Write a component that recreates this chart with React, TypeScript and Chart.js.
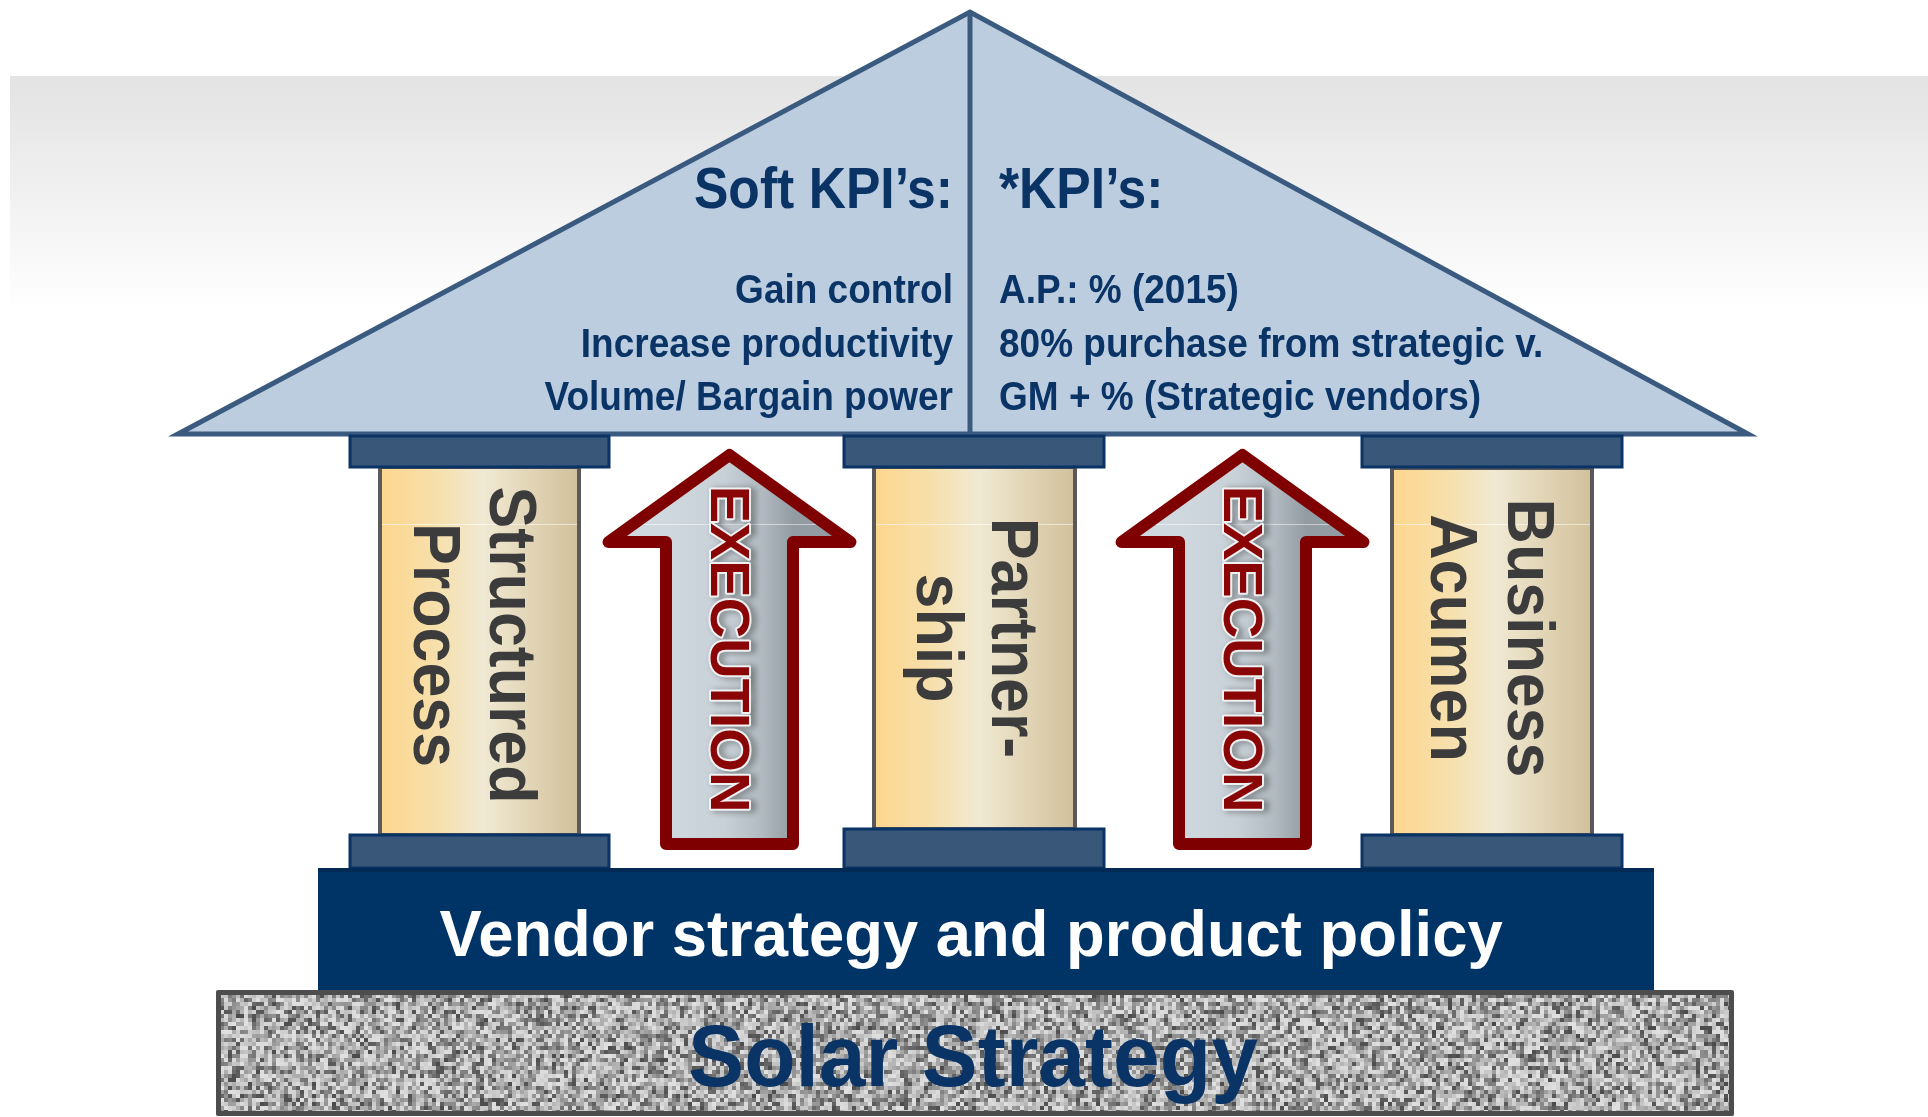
import React, { useEffect, useRef } from "react";
import { Chart, registerables } from "chart.js";

Chart.register(...registerables);

// ---------- content (data) ----------
const roofTitles = ["Soft KPI\u2019s:", "*KPI\u2019s:"];
const softKpis = ["Gain control", "Increase productivity", "Volume/ Bargain power"];
const hardKpis = ["A.P.: % (2015)", "80% purchase from strategic v.", "GM + % (Strategic vendors)"];
const pillarLabels = [
  ["Structured", "Process"],
  ["Partner-", "ship"],
  ["Business", "Acumen"],
];
const arrowLabels = ["EXECUTION", "EXECUTION"];
const foundationLabels = ["Vendor strategy and product policy", "Solar Strategy"];

// ---------- layout (diagram units on the chart's own x / y scales) ----------
const W = 1928;
const H = 1117;
const ROOF = { apexX: 970, apexY: 12, leftX: 178, rightX: 1748, baseY: 434 };
const BAND = { x0: 10, x1: 1928, y0: 76, y1: 310 };
const PILLAR_X = [[380, 579], [874, 1075], [1392, 1592]];
const PILLAR_Y = [[467, 835], [467, 829], [468, 835]];
const CAP_X = [[350, 609], [844, 1104], [1362, 1622]];
const TOP_CAP_Y = [436, 467];
const BOTTOM_CAP_Y = [[835, 868], [829, 868], [835, 868]];
const PILLAR_TEXT_BASE = [[490, 414], [992, 917], [1508, 1431]];
const PILLAR_TEXT_CY = [645, 638, 638];
const ARROW_CX = [729.5, 1242.5];
const ARROW = { tipY: 455, headY: 542, botY: 844, headHalf: 121, shaftHalf: 63.5 };
const ARROW_TEXT = { baseOffset: 18.5, cy: 649 };
const VENDOR = { x0: 318, x1: 1654, y0: 868, y1: 990, textX: 971, textY: 956 };
const SOLAR = { x0: 216, x1: 1734, y0: 990, y1: 1116, textX: 973, textY: 1086 };
const KPI = { leftX: 953, rightX: 999, titleY: 208, rowY: [303, 357, 410] };

const FONT = '"Liberation Sans", Arial, Helvetica, sans-serif';
const NAVY = "#0b3466";

function hash(i: number) {
  const s = Math.sin(i * 12.9898 + 78.233) * 43758.5453;
  return s - Math.floor(s);
}

function text(ctx: any, str: string, x: number, y: number, size: number, sx: number, align: string, color: string) {
  ctx.save();
  ctx.translate(x, y);
  ctx.scale(sx, 1);
  ctx.font = `bold ${size}px ${FONT}`;
  ctx.textAlign = align;
  ctx.textBaseline = "alphabetic";
  ctx.fillStyle = color;
  ctx.fillText(str, 0, 0);
  ctx.restore();
}

const housePlugin = {
  id: "house",
  beforeDatasetsDraw(chart: any) {
    const ctx = chart.ctx;
    const xs = chart.scales.x;
    const ys = chart.scales.y;
    const X = (v: number) => xs.getPixelForValue(v);
    const Y = (v: number) => ys.getPixelForValue(v);

    ctx.save();
    // background band
    const bg = ctx.createLinearGradient(0, Y(BAND.y0), 0, Y(BAND.y1));
    bg.addColorStop(0, "#e3e3e3");
    bg.addColorStop(0.45, "#efefef");
    bg.addColorStop(1, "#ffffff");
    ctx.fillStyle = bg;
    ctx.fillRect(X(BAND.x0), Y(BAND.y0), X(BAND.x1) - X(BAND.x0), Y(BAND.y1) - Y(BAND.y0));

    // roof
    ctx.beginPath();
    ctx.moveTo(X(ROOF.leftX), Y(ROOF.baseY));
    ctx.lineTo(X(ROOF.apexX), Y(ROOF.apexY));
    ctx.lineTo(X(ROOF.rightX), Y(ROOF.baseY));
    ctx.closePath();
    ctx.fillStyle = "#bccde0";
    ctx.fill();
    ctx.lineWidth = 5;
    ctx.lineJoin = "miter";
    ctx.strokeStyle = "#3a5a7f";
    ctx.stroke();
    ctx.beginPath();
    ctx.moveTo(X(ROOF.apexX), Y(ROOF.apexY));
    ctx.lineTo(X(ROOF.apexX), Y(ROOF.baseY));
    ctx.stroke();

    // KPI texts
    text(ctx, roofTitles[0], X(KPI.leftX), Y(KPI.titleY), 58, 0.89, "right", NAVY);
    text(ctx, roofTitles[1], X(KPI.rightX), Y(KPI.titleY), 58, 0.89, "left", NAVY);
    softKpis.forEach((s, i) => text(ctx, s, X(KPI.leftX), Y(KPI.rowY[i]), 40, 0.925, "right", NAVY));
    hardKpis.forEach((s, i) => text(ctx, s, X(KPI.rightX), Y(KPI.rowY[i]), 40, 0.925, "left", NAVY));

    // caps
    const cap = (x0: number, x1: number, y0: number, y1: number) => {
      ctx.beginPath();
      ctx.rect(X(x0), Y(y0), X(x1) - X(x0), Y(y1) - Y(y0));
      ctx.fillStyle = "#385779";
      ctx.fill();
      ctx.lineWidth = 3;
      ctx.strokeStyle = "#0a3366";
      ctx.stroke();
    };

    // pillars
    pillarLabels.forEach((lines, i) => {
      const [px0, px1] = PILLAR_X[i];
      const [py0, py1] = PILLAR_Y[i];
      const g = ctx.createLinearGradient(X(px0), 0, X(px1), 0);
      g.addColorStop(0, "#fdd68c");
      g.addColorStop(0.3, "#f6e0ae");
      g.addColorStop(0.52, "#f0e9d3");
      g.addColorStop(0.78, "#e0d3b3");
      g.addColorStop(1, "#d1c09b");
      ctx.fillStyle = g;
      ctx.fillRect(X(px0), Y(py0), X(px1) - X(px0), Y(py1) - Y(py0));
      ctx.strokeStyle = "rgba(255,255,255,0.55)";
      ctx.lineWidth = 1;
      ctx.beginPath();
      ctx.moveTo(X(px0), Y(524) + 0.5);
      ctx.lineTo(X(px1), Y(524) + 0.5);
      ctx.stroke();
      ctx.lineWidth = 4;
      ctx.strokeStyle = "#595959";
      ctx.strokeRect(X(px0), Y(py0), X(px1) - X(px0), Y(py1) - Y(py0));

      cap(CAP_X[i][0], CAP_X[i][1], TOP_CAP_Y[0], TOP_CAP_Y[1]);
      cap(CAP_X[i][0], CAP_X[i][1], BOTTOM_CAP_Y[i][0], BOTTOM_CAP_Y[i][1]);

      const cx = (px0 + px1) / 2;
      lines.forEach((ln, j) => {
        ctx.save();
        ctx.translate(X(cx), Y(PILLAR_TEXT_CY[i]));
        ctx.rotate(Math.PI / 2);
        ctx.scale(0.95, 1);
        ctx.font = `bold 66px ${FONT}`;
        ctx.textAlign = "center";
        ctx.textBaseline = "alphabetic";
        ctx.fillStyle = "#3c3c3c";
        const ly = X(cx) - X(PILLAR_TEXT_BASE[i][j]);
        ctx.fillText(ln, 0, ly);
        ctx.restore();
      });
    });

    // arrows
    arrowLabels.forEach((lbl, i) => {
      const c = ARROW_CX[i];
      const arrowPath = () => {
        ctx.beginPath();
        ctx.moveTo(X(c), Y(ARROW.tipY));
        ctx.lineTo(X(c + ARROW.headHalf), Y(ARROW.headY));
        ctx.lineTo(X(c + ARROW.shaftHalf), Y(ARROW.headY));
        ctx.lineTo(X(c + ARROW.shaftHalf), Y(ARROW.botY));
        ctx.lineTo(X(c - ARROW.shaftHalf), Y(ARROW.botY));
        ctx.lineTo(X(c - ARROW.shaftHalf), Y(ARROW.headY));
        ctx.lineTo(X(c - ARROW.headHalf), Y(ARROW.headY));
        ctx.closePath();
      };
      arrowPath();
      const g = ctx.createLinearGradient(X(c - ARROW.shaftHalf), 0, X(c + ARROW.shaftHalf), 0);
      g.addColorStop(0, "#cfd8de");
      g.addColorStop(0.45, "#c8d1d7");
      g.addColorStop(0.75, "#b1bbc1");
      g.addColorStop(1, "#939ca3");
      ctx.fillStyle = g;
      ctx.fill();
      ctx.save();
      ctx.clip();
      ctx.strokeStyle = "rgba(255,255,255,0.5)";
      ctx.lineWidth = 1;
      ctx.beginPath();
      ctx.moveTo(X(c - ARROW.headHalf), Y(524) + 0.5);
      ctx.lineTo(X(c + ARROW.headHalf), Y(524) + 0.5);
      ctx.stroke();
      ctx.restore();
      arrowPath();
      ctx.lineWidth = 12;
      ctx.lineJoin = "round";
      ctx.strokeStyle = "#7f0000";
      ctx.stroke();

      ctx.save();
      ctx.translate(X(c), Y(ARROW_TEXT.cy));
      ctx.rotate(Math.PI / 2);
      ctx.font = `bold 56px ${FONT}`;
      ctx.textAlign = "center";
      ctx.textBaseline = "alphabetic";
      ctx.shadowColor = "rgba(0,0,0,0.45)";
      ctx.shadowBlur = 6;
      ctx.shadowOffsetX = 4;
      ctx.shadowOffsetY = 1;
      ctx.lineWidth = 4;
      ctx.lineJoin = "round";
      ctx.strokeStyle = "#eef0f2";
      ctx.strokeText(lbl, 0, ARROW_TEXT.baseOffset);
      ctx.shadowColor = "transparent";
      ctx.fillStyle = "#8a0505";
      ctx.fillText(lbl, 0, ARROW_TEXT.baseOffset);
      ctx.restore();
    });

    // vendor bar
    ctx.fillStyle = "#003366";
    ctx.fillRect(X(VENDOR.x0), Y(VENDOR.y0), X(VENDOR.x1) - X(VENDOR.x0), Y(VENDOR.y1) - Y(VENDOR.y0));
    ctx.fillStyle = "#022a55";
    ctx.fillRect(X(VENDOR.x0), Y(VENDOR.y0), X(VENDOR.x1) - X(VENDOR.x0), 4);
    text(ctx, foundationLabels[0], X(VENDOR.textX), Y(VENDOR.textY), 64, 0.99, "center", "#ffffff");

    // solar base (granite texture)
    const sw = Math.round(X(SOLAR.x1) - X(SOLAR.x0));
    const sh = Math.round(Y(SOLAR.y1) - Y(SOLAR.y0));
    const tex = document.createElement("canvas");
    tex.width = sw;
    tex.height = sh;
    const tc = tex.getContext("2d") as CanvasRenderingContext2D;
    let k = 0;
    for (let yy = 0; yy < sh; yy += 4) {
      for (let xx = 0; xx < sw; xx += 4) {
        const h = hash(k++);
        const gv = Math.round(224 - Math.pow(h, 1.6) * 150);
        tc.fillStyle = `rgb(${gv},${gv},${gv})`;
        tc.fillRect(xx, yy, 4, 4);
      }
    }
    ctx.drawImage(tex, X(SOLAR.x0), Y(SOLAR.y0));
    ctx.lineWidth = 5;
    ctx.strokeStyle = "#4d4d4d";
    ctx.strokeRect(X(SOLAR.x0) + 2.5, Y(SOLAR.y0) + 2.5, sw - 5, sh - 5);
    text(ctx, foundationLabels[1], X(SOLAR.textX), Y(SOLAR.textY), 88, 0.955, "center", NAVY);

    ctx.restore();
  },
};

export default function App() {
  const ref = useRef<HTMLCanvasElement | null>(null);
  useEffect(() => {
    if (!ref.current) return;
    const chart = new Chart(ref.current, {
      type: "scatter",
      data: {
        datasets: [
          {
            label: "pillars",
            data: PILLAR_X.map((p, i) => ({ x: (p[0] + p[1]) / 2, y: PILLAR_TEXT_CY[i] })),
            pointRadius: 0,
            showLine: false,
          },
        ],
      },
      options: {
        responsive: false,
        maintainAspectRatio: false,
        animation: false,
        devicePixelRatio: 1,
        events: [],
        layout: { padding: 0 },
        plugins: { legend: { display: false }, tooltip: { enabled: false } },
        scales: {
          x: { type: "linear", min: 0, max: W, display: false },
          y: { type: "linear", min: 0, max: H, reverse: true, display: false },
        },
      },
      plugins: [housePlugin],
    });
    return () => chart.destroy();
  }, []);
  return (
    <div style={{ position: "fixed", left: 0, top: 0, width: W, height: H, background: "#ffffff" }}>
      <canvas ref={ref} width={W} height={H} style={{ display: "block", width: W, height: H }} />
    </div>
  );
}
